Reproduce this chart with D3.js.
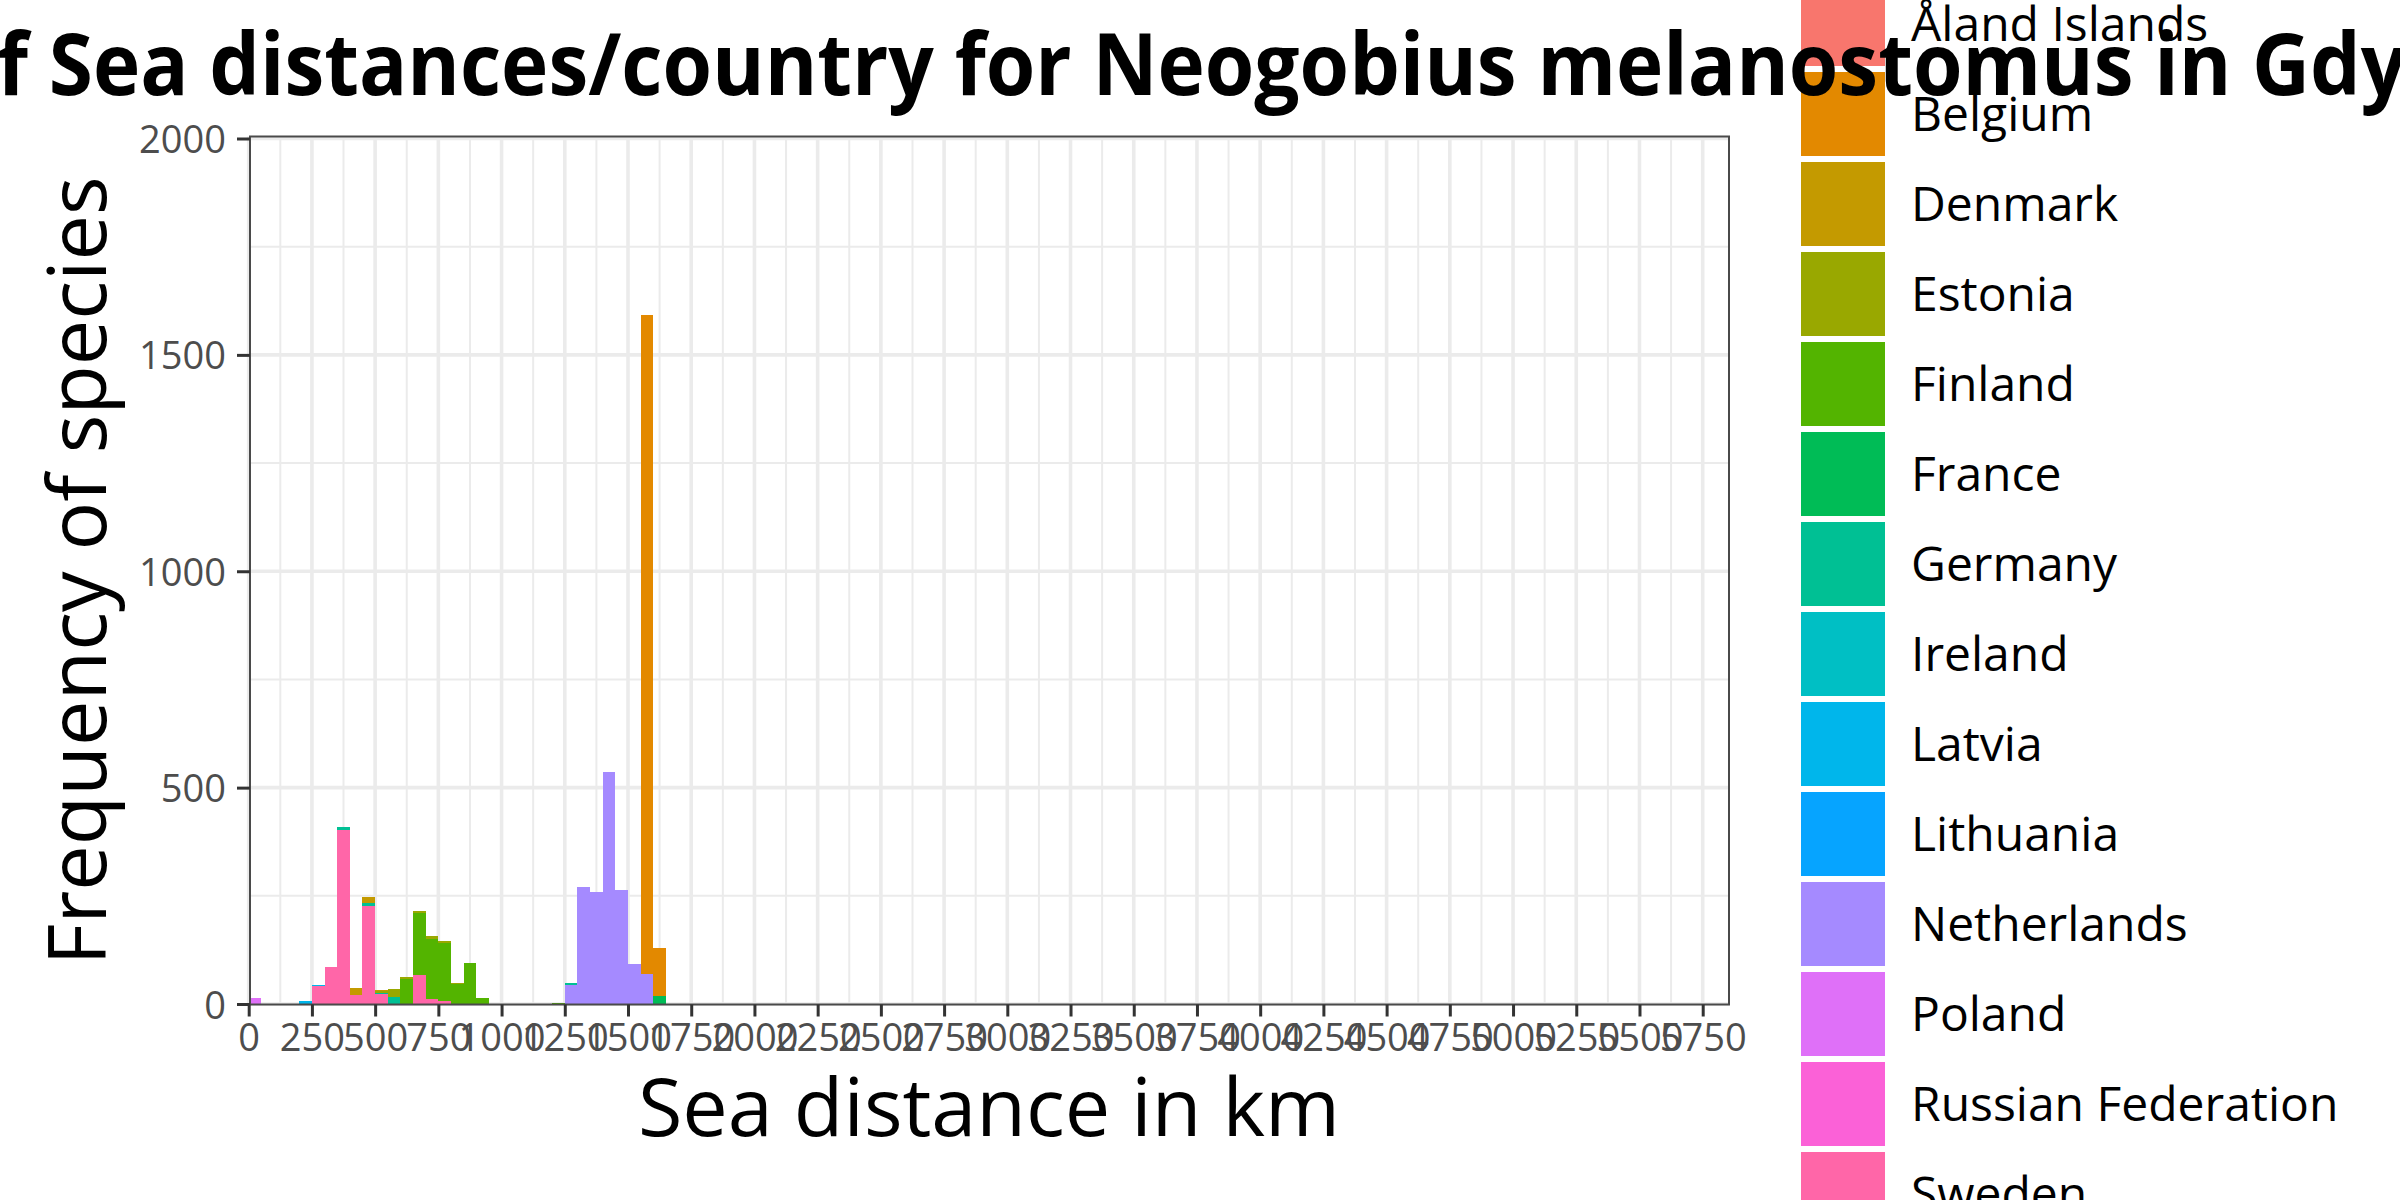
<!DOCTYPE html>
<html>
<head>
<meta charset="utf-8">
<script src="https://cdnjs.cloudflare.com/ajax/libs/d3/7.8.5/d3.min.js"></script>
<style>
    html, body { margin: 0; padding: 0; background: #fff; overflow: hidden; }
    text { font-family: "Open Sans", sans-serif; }
</style>
</head>
<body>
<div id="chart"></div>
<script>
// lower edge of each 50 km bin
const binStarts = [0, 200, 250, 300, 350, 400, 450, 500, 550, 600, 650, 700, 750, 800, 850, 900, 1200, 1250, 1300, 1350, 1400, 1450, 1500, 1550, 1600, 1750, 2450, 5250, 5300];

const countries = ['Åland Islands', 'Belgium', 'Denmark', 'Estonia', 'Finland', 'France', 'Germany', 'Ireland', 'Latvia', 'Lithuania', 'Netherlands', 'Poland', 'Russian Federation', 'Sweden'];
const colors = ['#F8766D', '#E38900', '#C49A00', '#99A800', '#53B400', '#00BC56', '#00C094', '#00BFC4', '#00B6EB', '#06A4FF', '#A58AFF', '#DF70F8', '#FB61D7', '#FF66A8'];

const belgium =     [0, 0, 0, 0, 0, 0, 0, 0, 0, 0, 0, 0, 0, 0, 0, 0, 0, 0, 0, 0, 0, 0, 0, 1522, 111, 0, 0, 0, 0];
const denmark =     [0, 0, 0, 0, 0, 16, 14, 4, 0, 0, 0, 0, 0, 0, 0, 0, 0, 0, 0, 0, 0, 0, 0, 0, 0, 0, 0, 0, 0];
const estonia =     [0, 0, 0, 0, 0, 0, 0, 4, 19, 5, 4, 7, 5, 2, 0, 0, 0, 0, 0, 0, 0, 0, 0, 0, 0, 0, 0, 0, 0];
const finland =     [0, 0, 0, 0, 0, 0, 0, 0, 0, 58, 144, 139, 134, 46, 95, 14, 2, 0, 0, 0, 0, 0, 0, 0, 0, 0, 0, 0, 0];
const france =      [0, 0, 0, 0, 0, 0, 0, 0, 0, 0, 0, 0, 0, 0, 0, 0, 0, 0, 0, 0, 0, 0, 0, 0, 18, 0, 0, 0, 0];
const germany =     [0, 0, 0, 0, 7, 0, 7, 2, 16, 0, 0, 0, 0, 0, 0, 0, 0, 5, 0, 0, 0, 0, 0, 0, 0, 1, 1, 1, 1];
const latvia =      [0, 7, 2, 0, 0, 0, 0, 0, 0, 0, 0, 0, 0, 0, 0, 0, 0, 0, 0, 0, 0, 0, 0, 0, 0, 0, 0, 0, 0];
const netherlands = [0, 0, 0, 0, 0, 0, 0, 0, 0, 0, 0, 0, 0, 0, 0, 0, 0, 44, 271, 259, 537, 264, 93, 70, 0, 0, 0, 0, 0];
const poland =      [14, 0, 0, 0, 0, 0, 0, 0, 0, 0, 0, 0, 0, 0, 0, 0, 0, 0, 0, 0, 0, 0, 0, 0, 0, 0, 0, 0, 0];
const sweden =      [0, 0, 42, 86, 403, 21, 227, 23, 0, 0, 67, 12, 7, 0, 0, 0, 0, 0, 0, 0, 0, 0, 0, 0, 0, 0, 0, 0, 0];

const seriesByCountry = {
    'Belgium': belgium, 'Denmark': denmark, 'Estonia': estonia, 'Finland': finland,
    'France': france, 'Germany': germany, 'Latvia': latvia, 'Netherlands': netherlands,
    'Poland': poland, 'Sweden': sweden
};

const xTicks = d3.range(0, 5751, 250);
const xMinorTicks = d3.range(125, 5700, 250);
const yTicks = [0, 500, 1000, 1500, 2000];
const yMinorTicks = [250, 750, 1250, 1750];
const binWidth = 50;

const titleText = 'Histogram of Sea distances/country for Neogobius melanostomus in Gdynia';
const xLabel = 'Sea distance in km';
const yLabel = 'Frequency of species';

const width = 2400, height = 1200;
const panel = {left: 250, right: 1729, top: 136.5, bottom: 1004.5};

const svg = d3.select('#chart').append('svg')
    .attr('width', width).attr('height', height)
    .style('display', 'block');

const x = d3.scaleLinear().domain([0, 5750]).range([248.7, 1702.7]);
const y = d3.scaleLinear().domain([0, 2000]).range([1004, 138.5]);

// gridlines
const grid = svg.append('g');
function gridLines(vals, vertical, w) {
    grid.selectAll(null).data(vals).enter().append('line')
        .attr('x1', d => vertical ? x(d) : panel.left)
        .attr('x2', d => vertical ? x(d) : panel.right)
        .attr('y1', d => vertical ? panel.top : y(d))
        .attr('y2', d => vertical ? panel.bottom : y(d))
        .attr('stroke', '#ebebeb').attr('stroke-width', w);
}
gridLines(xMinorTicks, true, 2);
gridLines(yMinorTicks, false, 2);
gridLines(xTicks, true, 3.6);
gridLines(yTicks, false, 3.6);

// stacked bars, Sweden at the bottom and Åland Islands on top like ggplot does
const rows = binStarts.map((b, i) => {
    let row = {bin: b};
    countries.forEach(c => { row[c] = seriesByCountry[c] ? seriesByCountry[c][i] : 0; });
    return row;
});
const stacked = d3.stack().keys(countries.slice().reverse())(rows);

const color = d3.scaleOrdinal().domain(countries).range(colors);

svg.append('g').attr('shape-rendering', 'crispEdges')
    .selectAll('g').data(stacked).enter().append('g')
    .attr('fill', d => color(d.key))
    .selectAll('rect').data(d => d.filter(p => p[1] > p[0])).enter().append('rect')
    .attr('x', d => Math.max(x(d.data.bin), panel.left))
    .attr('width', d => x(d.data.bin + binWidth) - Math.max(x(d.data.bin), panel.left))
    .attr('y', d => y(d[1]))
    .attr('height', d => y(d[0]) - y(d[1]));

// panel border
svg.append('rect')
    .attr('x', panel.left).attr('y', panel.top)
    .attr('width', panel.right - panel.left).attr('height', panel.bottom - panel.top)
    .attr('fill', 'none').attr('stroke', '#4a4a4a').attr('stroke-width', 2);

// axes
const xAxis = svg.append('g')
    .attr('transform', `translate(0,${panel.bottom})`)
    .call(d3.axisBottom(x).tickValues(xTicks).tickFormat(d3.format('d')).tickSize(12).tickPadding(8));
const yAxis = svg.append('g')
    .attr('transform', `translate(${panel.left},0)`)
    .call(d3.axisLeft(y).tickValues(yTicks).tickFormat(d3.format('d')).tickSize(13).tickPadding(11));
[xAxis, yAxis].forEach(a => {
    a.select('.domain').remove();
    a.selectAll('line').attr('stroke', '#333333').attr('stroke-width', 3);
    a.selectAll('text').attr('fill', '#4D4D4D').style('font-size', '38px')
        .style('font-family', '"Open Sans", sans-serif');
});
yAxis.selectAll('text').attr('dy', '0.37em');

svg.append('text').text(xLabel)
    .attr('x', 989).attr('y', 1136)
    .attr('text-anchor', 'middle').style('font-size', '81px');
svg.append('text').text(yLabel)
    .attr('transform', 'translate(106,571) rotate(-90)')
    .attr('text-anchor', 'middle').style('font-size', '81px');

// legend runs off the top and bottom of the image
const keyPitch = 90, keySize = 84, firstKeyTop = -18;
const legend = svg.append('g').selectAll('g').data(countries).enter().append('g')
    .attr('transform', (d, i) => `translate(1801,${firstKeyTop + i * keyPitch})`);
legend.append('rect')
    .attr('width', keySize).attr('height', keySize)
    .attr('fill', d => color(d));
legend.append('text').text(d => d)
    .attr('x', 110).attr('y', keySize / 2)
    .attr('dy', '0.35em')
    .style('font-size', '48px');

// title goes last, it overlaps the legend. squeezed a bit since the original font is narrower
svg.append('text').text(titleText)
    .attr('transform', 'translate(1020,95) scale(0.931,1)')
    .attr('text-anchor', 'middle')
    .style('font-size', '86px').style('font-weight', 'bold');
</script>
</body>
</html>
